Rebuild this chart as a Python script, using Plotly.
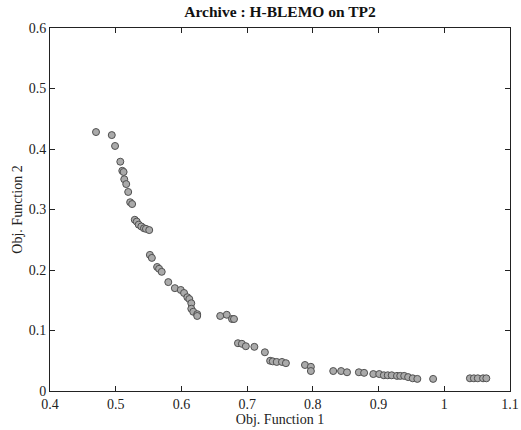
import plotly.graph_objects as go

# Archive points (Obj. Function 1, Obj. Function 2)
obj1 = [0.470, 0.494, 0.499, 0.507, 0.510, 0.512, 0.513, 0.516, 0.519, 0.522, 0.525,
        0.529, 0.532, 0.535, 0.539, 0.543, 0.546, 0.551,
        0.552, 0.555, 0.563, 0.566, 0.570, 0.580, 0.590, 0.599, 0.604, 0.609,
        0.612, 0.615, 0.615, 0.618, 0.624, 0.624,
        0.659, 0.669, 0.677, 0.680,
        0.686, 0.692, 0.698, 0.711, 0.727,
        0.735, 0.739, 0.745, 0.753, 0.759, 0.788, 0.797, 0.797,
        0.831, 0.843, 0.852, 0.870, 0.878, 0.892, 0.901,
        0.908, 0.914, 0.920, 0.928, 0.933, 0.939, 0.945, 0.952, 0.959, 0.983,
        1.039, 1.045, 1.051, 1.059, 1.064]
obj2 = [0.428, 0.423, 0.405, 0.379, 0.364, 0.362, 0.350, 0.342, 0.329, 0.312, 0.309,
        0.283, 0.280, 0.275, 0.272, 0.269, 0.268, 0.266,
        0.225, 0.220, 0.205, 0.202, 0.197, 0.180, 0.170, 0.167, 0.162, 0.155,
        0.152, 0.145, 0.136, 0.131, 0.127, 0.124,
        0.124, 0.126, 0.119, 0.119,
        0.079, 0.078, 0.074, 0.073, 0.064,
        0.050, 0.049, 0.048, 0.048, 0.046, 0.043, 0.040, 0.033,
        0.033, 0.033, 0.031, 0.031, 0.030, 0.028, 0.028,
        0.026, 0.026, 0.026, 0.025, 0.025, 0.025, 0.023, 0.021, 0.020, 0.020,
        0.021, 0.021, 0.021, 0.021, 0.021]

x_ticks = [0.4, 0.5, 0.6, 0.7, 0.8, 0.9, 1.0, 1.1]
x_tick_text = ["0.4", "0.5", "0.6", "0.7", "0.8", "0.9", "1", "1.1"]
y_ticks = [0, 0.1, 0.2, 0.3, 0.4, 0.5, 0.6]
y_tick_text = ["0", "0.1", "0.2", "0.3", "0.4", "0.5", "0.6"]

SERIF = "Times New Roman, Liberation Serif, serif"

fig = go.Figure(
    go.Scatter(
        x=obj1, y=obj2, mode="markers",
        marker=dict(size=7, color="rgb(170,170,170)",
                    line=dict(color="rgb(80,80,80)", width=1)),
    )
)

axis_style = dict(
    showgrid=False, zeroline=False, showline=True, linecolor="#222",
    linewidth=1, mirror="ticks", ticks="inside", ticklen=5, tickcolor="#222",
    automargin=False,
    tickfont=dict(family=SERIF, size=14, color="#222"),
)

fig.update_layout(
    width=521, height=430,
    margin=dict(l=50, r=11, t=28, b=39),
    paper_bgcolor="white", plot_bgcolor="white",
    showlegend=False,
    title=dict(text="<b>Archive : H-BLEMO on TP2</b>", x=0.5375, xanchor="center",
               y=0.972, yanchor="middle",
               font=dict(family=SERIF, size=15.5, color="#111")),
    xaxis=dict(range=[0.4, 1.1], tickvals=x_ticks, ticktext=x_tick_text,
               title=dict(text="Obj. Function 1", standoff=3,
                          font=dict(family=SERIF, size=14, color="#222")),
               **axis_style),
    yaxis=dict(range=[0, 0.6], tickvals=y_ticks, ticktext=y_tick_text,
               title=dict(text="Obj. Function 2", standoff=2,
                          font=dict(family=SERIF, size=14, color="#222")),
               **axis_style),
)

fig.write_html("out.html")
